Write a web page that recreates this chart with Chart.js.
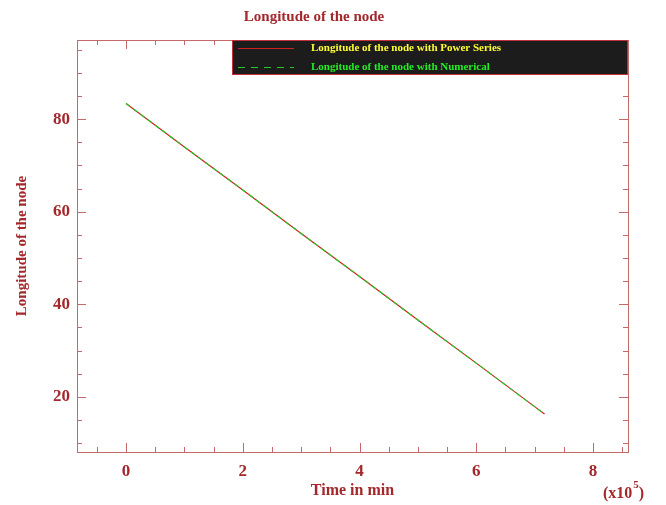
<!DOCTYPE html>
<html>
<head>
<meta charset="utf-8">
<script src="https://cdn.jsdelivr.net/npm/chart.js@4/dist/chart.umd.min.js"></script>
<style>
  body { margin: 0; background: #fff; }
  canvas { display: block; }
</style>
</head>
<body>
<canvas id="myChart" width="666" height="505"></canvas>
<script>
// time in units of 1e5 min
const timeValues = [0, 1, 2, 3, 4, 5, 6, 7, 7.17];
const powerSeries = [83.4, 74.0, 64.7, 55.3, 46.0, 36.6, 27.3, 17.9, 16.3];
const numerical = [83.4, 74.0, 64.7, 55.3, 46.0, 36.6, 27.3, 17.9, 16.3];
const xTicks = [0, 2, 4, 6, 8];
const yTicks = [20, 40, 60, 80];

const textColor = "#a3282b";
const frameColor = "#c46a6a";
const serif = "'Liberation Serif', 'Times New Roman', serif";

function toPoints(ys) {
  return timeValues.map((t, i) => ({ x: t, y: ys[i] }));
}

// frame with inward ticks on all four sides, legend box, x10^5 label
const framePlugin = {
  id: "frame",
  afterDraw(chart) {
    const ctx = chart.ctx;
    const a = chart.chartArea;
    const xs = chart.scales.x;
    const ys = chart.scales.y;
    ctx.save();
    ctx.strokeStyle = frameColor;
    ctx.lineWidth = 1;
    ctx.strokeRect(a.left + 0.5, a.top + 0.5, a.right - a.left, a.bottom - a.top);

    ctx.beginPath();
    for (let v = Math.ceil(xs.min * 2) / 2; v <= xs.max; v += 0.5) {
      const px = Math.round(xs.getPixelForValue(v)) + 0.5;
      const len = (Math.abs(v % 2) < 1e-6) ? 9 : 5;
      ctx.moveTo(px, a.bottom); ctx.lineTo(px, a.bottom - len);
      ctx.moveTo(px, a.top); ctx.lineTo(px, a.top + len);
    }
    for (let v = Math.ceil(ys.min / 5) * 5; v <= ys.max; v += 5) {
      const py = Math.round(ys.getPixelForValue(v)) + 0.5;
      const len = (v % 20 === 0) ? 9 : 5;
      ctx.moveTo(a.left, py); ctx.lineTo(a.left + len, py);
      ctx.moveTo(a.right, py); ctx.lineTo(a.right - len, py);
    }
    ctx.stroke();

    // legend box
    const bw = 396, bh = 35;
    const bx = a.right - bw, by = a.top;
    ctx.fillStyle = "#1c1c1c";
    ctx.fillRect(bx, by, bw, bh);
    ctx.strokeStyle = "#c0303a";
    ctx.strokeRect(bx + 0.5, by + 0.5, bw - 1, bh - 1);

    const ds = chart.data.datasets;
    const rows = [
      { d: ds[1], text: "#ffff33", y: by + 8 },
      { d: ds[0], text: "#22ee22", y: by + 27 }
    ];
    ctx.font = "bold 11px " + serif;
    ctx.textBaseline = "middle";
    rows.forEach((r) => {
      ctx.strokeStyle = r.d.borderColor;
      ctx.setLineDash(r.d.borderDash ? [7, 6] : []);
      ctx.beginPath();
      ctx.moveTo(bx + 6, r.y + 0.5);
      ctx.lineTo(bx + 62, r.y + 0.5);
      ctx.stroke();
      ctx.setLineDash([]);
      ctx.fillStyle = r.text;
      ctx.textAlign = "left";
      ctx.fillText(r.d.label, bx + 79, r.y);
    });

    // exponent label
    ctx.fillStyle = textColor;
    ctx.font = "bold 16px " + serif;
    ctx.textAlign = "left";
    ctx.textBaseline = "alphabetic";
    ctx.fillText("(x10", 603, 498);
    const w = ctx.measureText("(x10").width;
    ctx.font = "bold 11px " + serif;
    ctx.fillText("5", 604 + w, 488);
    const w2 = ctx.measureText("5").width;
    ctx.font = "bold 16px " + serif;
    ctx.fillText(")", 604 + w + w2, 498);
    ctx.restore();
  }
};

const ctx = document.getElementById("myChart");

new Chart(ctx, {
  type: "scatter",
  data: {
    datasets: [
      {
        label: "Longitude of the node with Numerical",
        data: toPoints(numerical),
        showLine: true,
        borderColor: "#22cc22",
        borderDash: [5, 4],
        borderWidth: 1.2,
        pointRadius: 0,
        order: 0
      },
      {
        label: "Longitude of the node with Power Series",
        data: toPoints(powerSeries),
        showLine: true,
        borderColor: "#cc2222",
        borderWidth: 1.2,
        pointRadius: 0,
        order: 1
      }
    ]
  },
  options: {
    responsive: false,
    animation: false,
    layout: { padding: { left: 0, right: 38, top: 0, bottom: 0 } },
    plugins: {
      legend: { display: false },
      tooltip: { enabled: false },
      title: {
        display: true,
        text: "Longitude of the node",
        color: textColor,
        font: { family: serif, size: 15, weight: "bold" },
        padding: { top: 8, bottom: 14 }
      }
    },
    scales: {
      x: {
        type: "linear",
        min: -0.84,
        max: 8.6,
        afterBuildTicks: (scale) => { scale.ticks = xTicks.map((v) => ({ value: v })); },
        afterFit: (scale) => { scale.height = 53; },
        grid: { display: false, drawTicks: false },
        border: { display: false },
        ticks: {
          color: textColor,
          font: { family: serif, size: 17, weight: "bold" },
          padding: 9,
          maxRotation: 0
        },
        title: {
          display: true,
          text: "Time in min",
          color: textColor,
          font: { family: serif, size: 16, weight: "bold" },
          padding: { top: 0, bottom: 5 }
        }
      },
      y: {
        min: 8.1,
        max: 97.1,
        afterBuildTicks: (scale) => { scale.ticks = yTicks.map((v) => ({ value: v })); },
        afterFit: (scale) => { scale.width = 77; },
        grid: { display: false, drawTicks: false },
        border: { display: false },
        ticks: {
          color: textColor,
          font: { family: serif, size: 17, weight: "bold" },
          padding: 7
        },
        title: {
          display: true,
          text: "Longitude of the node",
          color: textColor,
          font: { family: serif, size: 15, weight: "bold" },
          padding: { top: 13, bottom: 0 }
        }
      }
    }
  },
  plugins: [framePlugin]
});
</script>
</body>
</html>
